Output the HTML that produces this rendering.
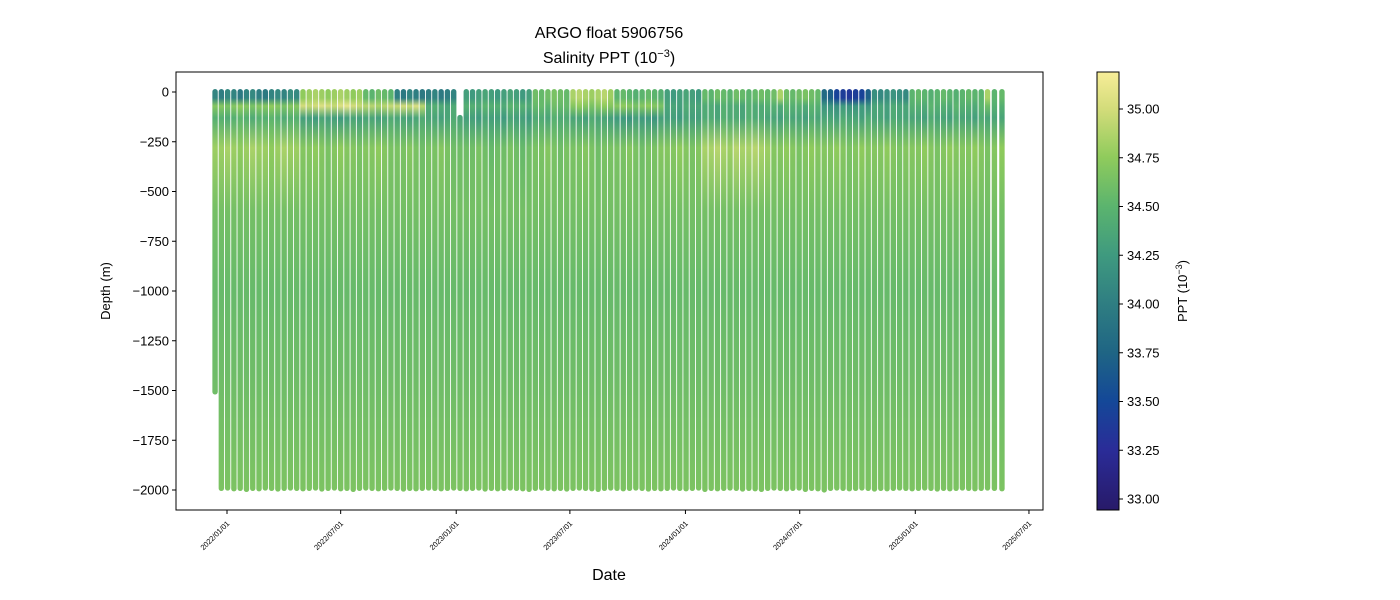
<!DOCTYPE html>
<html><head><meta charset="utf-8"><style>
body{margin:0;background:#fff;}
svg{display:block;font-family:"Liberation Sans","DejaVu Sans",sans-serif;}
</style></head><body>
<svg id="chart" width="1400" height="600" viewBox="0 0 1400 600" xmlns="http://www.w3.org/2000/svg">
<defs id="defs"></defs>
<rect width="1400" height="600" fill="#fff"/>
<text x="609" y="38" font-size="16" text-anchor="middle">ARGO float 5906756</text>
<text x="609" y="63" font-size="16" text-anchor="middle">Salinity PPT (10<tspan dy="-6" font-size="11">−3</tspan><tspan dy="6">)</tspan></text>
<g id="plot"></g>
<rect x="176" y="72" width="867" height="438" fill="none" stroke="#000" stroke-width="1"/>
<g id="yaxis"></g>
<g id="xaxis"></g>
<text x="110" y="291" font-size="13" text-anchor="middle" transform="rotate(-90 110 291)">Depth (m)</text>
<text x="609" y="580" font-size="16" text-anchor="middle">Date</text>
<g id="cbar"></g>
<text x="1187" y="291" font-size="13" text-anchor="middle" transform="rotate(-90 1187 291)">PPT (10<tspan dy="-5" font-size="9">−3</tspan><tspan dy="5">)</tspan></text>
</svg>
<script>
// profile dates: day offset relative to 2022-01-01
const profDay=[-19,-9,1,11,21,31,41,51,61,71,81,91,101,111,121,131,141,151,161,171,181,191,201,211,221,231,241,251,261,271,281,291,301,311,321,331,341,351,361,371,381,391,401,411,421,431,441,451,461,471,481,491,501,511,521,531,541,551,561,571,581,591,601,611,621,631,641,651,661,671,681,691,701,711,721,731,741,751,761,771,781,791,801,811,821,831,841,851,861,871,881,891,901,911,921,931,941,951,961,971,981,991,1001,1011,1021,1031,1041,1051,1061,1071,1081,1091,1101,1111,1121,1131,1141,1151,1161,1171,1181,1191,1201,1211,1222,1234];
const topDepth=[0,0,0,0,0,0,0,0,0,0,0,0,0,0,0,0,0,0,0,0,0,0,0,0,0,0,0,0,0,0,0,0,0,0,0,0,0,0,0,130,0,0,0,0,0,0,0,0,0,0,0,0,0,0,0,0,0,0,0,0,0,0,0,0,0,0,0,0,0,0,0,0,0,0,0,0,0,0,0,0,0,0,0,0,0,0,0,0,0,0,0,0,0,0,0,0,0,0,0,0,0,0,0,0,0,0,0,0,0,0,0,0,0,0,0,0,0,0,0,0,0,0,0,0,0,0];
const maxDepth=[1505,1990,1988,1992,1990,1995,1990,1992,1988,1990,1993,1990,1988,1990,1992,1990,1988,1993,1990,1988,1992,1990,1995,1990,1988,1990,1992,1990,1988,1990,1993,1990,1992,1990,1988,1990,1992,1990,1988,1990,1992,1990,1988,1993,1990,1992,1990,1988,1990,1992,1995,1990,1988,1990,1992,1990,1993,1990,1988,1990,1992,1995,1990,1988,1990,1992,1990,1988,1990,1993,1990,1992,1990,1988,1990,1992,1990,1988,1995,1990,1992,1990,1988,1990,1993,1990,1992,1995,1990,1988,1990,1992,1990,1988,1995,1990,1992,1998,1990,1988,1990,1992,1990,1988,1990,1993,1990,1992,1990,1988,1990,1992,1990,1988,1990,1993,1990,1992,1990,1988,1990,1992,1990,1988,1990,1992];
const salSurf=[34.05,34.0,34.1,34.05,33.95,34.05,34.1,34.0,33.95,34.05,34.1,34.05,34.15,34.1,34.75,34.8,34.85,34.8,34.75,34.8,34.85,34.8,34.75,34.8,34.55,34.5,34.6,34.55,34.5,34.0,33.95,34.05,34.0,33.95,34.0,34.05,33.95,34.0,34.05,34.3,34.3,34.25,34.3,34.35,34.3,34.25,34.3,34.35,34.3,34.25,34.3,34.6,34.55,34.6,34.65,34.6,34.55,34.85,34.9,34.85,34.8,34.85,34.9,34.8,34.5,34.55,34.5,34.45,34.5,34.55,34.5,34.45,34.3,34.25,34.3,34.35,34.3,34.25,34.55,34.5,34.6,34.55,34.5,34.6,34.55,34.5,34.55,34.6,34.55,34.6,34.85,34.6,34.55,34.6,34.65,34.6,34.55,33.8,33.7,33.45,33.4,33.35,33.4,33.45,33.7,34.15,34.1,34.15,34.2,34.15,34.1,34.5,34.55,34.5,34.45,34.5,34.55,34.5,34.45,34.5,34.55,34.5,34.5,34.85,34.5,34.55];
const salBand=[34.7,34.7,34.65,34.7,34.75,34.7,34.65,34.7,34.7,34.75,34.7,34.65,34.7,34.7,35.0,34.95,35.0,35.05,35.0,34.95,35.05,35.1,35.0,34.95,34.9,34.9,34.85,34.9,34.95,34.95,35.0,34.95,35.05,34.9,34.4,34.45,34.4,34.35,34.4,34.3,34.45,34.45,34.4,34.5,34.45,34.45,34.4,34.5,34.45,34.45,34.4,34.55,34.55,34.5,34.6,34.55,34.55,34.7,34.75,34.7,34.65,34.7,34.75,34.7,34.7,34.75,34.7,34.65,34.7,34.75,34.7,34.65,34.35,34.35,34.3,34.4,34.35,34.35,34.4,34.4,34.35,34.45,34.4,34.4,34.35,34.45,34.4,34.4,34.45,34.45,34.4,34.5,34.45,34.45,34.4,34.5,34.45,34.2,34.2,34.15,34.25,34.2,34.2,34.25,34.2,34.35,34.35,34.3,34.4,34.35,34.35,34.45,34.45,34.4,34.5,34.45,34.45,34.4,34.5,34.45,34.45,34.4,34.5,34.6,34.45,34.45];
const salMin=[34.45,34.45,34.4,34.45,34.5,34.45,34.4,34.45,34.45,34.5,34.45,34.4,34.45,34.45,34.3,34.3,34.25,34.35,34.3,34.3,34.25,34.3,34.35,34.3,34.35,34.35,34.3,34.35,34.4,34.35,34.35,34.3,34.35,34.4,34.35,34.35,34.3,34.35,34.4,34.35,34.3,34.3,34.25,34.35,34.3,34.3,34.25,34.35,34.3,34.3,34.25,34.4,34.4,34.35,34.45,34.4,34.4,34.35,34.35,34.3,34.4,34.35,34.35,34.3,34.25,34.25,34.2,34.3,34.25,34.25,34.2,34.3,34.3,34.3,34.25,34.35,34.3,34.3,34.4,34.4,34.35,34.45,34.4,34.4,34.35,34.45,34.4,34.4,34.35,34.35,34.3,34.4,34.35,34.35,34.3,34.4,34.35,34.35,34.35,34.3,34.4,34.35,34.35,34.3,34.4,34.35,34.35,34.3,34.4,34.35,34.35,34.35,34.35,34.3,34.4,34.35,34.35,34.3,34.4,34.35,34.35,34.3,34.4,34.35,34.35,34.35];
const salInter=[34.8,34.8,34.85,34.8,34.75,34.8,34.85,34.8,34.8,34.75,34.8,34.85,34.8,34.8,34.7,34.7,34.75,34.7,34.65,34.7,34.75,34.7,34.7,34.65,34.7,34.7,34.75,34.7,34.65,34.65,34.65,34.7,34.65,34.6,34.65,34.65,34.7,34.65,34.6,34.6,34.6,34.6,34.65,34.6,34.55,34.6,34.6,34.65,34.6,34.55,34.6,34.65,34.65,34.7,34.65,34.6,34.65,34.65,34.65,34.7,34.65,34.6,34.65,34.65,34.65,34.65,34.7,34.65,34.6,34.65,34.65,34.7,34.7,34.7,34.75,34.7,34.65,34.7,34.85,34.85,34.9,34.85,34.8,34.9,34.85,34.85,34.9,34.85,34.8,34.7,34.7,34.75,34.7,34.65,34.7,34.75,34.7,34.7,34.7,34.75,34.7,34.65,34.7,34.75,34.7,34.7,34.7,34.75,34.7,34.65,34.7,34.7,34.7,34.75,34.7,34.65,34.7,34.75,34.7,34.7,34.7,34.75,34.7,34.65,34.7,34.75];
const deepDepth=[600,1000,1500,2000];
const deepSal=[34.62,34.56,34.6,34.66];
const yTicks=[0,-250,-500,-750,-1000,-1250,-1500,-1750,-2000];
const xTickDays=[0,181,365,546,730,912,1096,1277];
const xTickLabels=["2022/01/01","2022/07/01","2023/01/01","2023/07/01","2024/01/01","2024/07/01","2025/01/01","2025/07/01"];
const cbTicks=[33.00,33.25,33.50,33.75,34.00,34.25,34.50,34.75,35.00];

const NS="http://www.w3.org/2000/svg";
const X0=176,X1=1043,Y0=72,Y1=510;
function xScale(d){return 227+(d)*0.628;}
function yScale(dep){return 92+(-dep)*(398/2000);}
const cMin=32.94,cMax=35.19;
const cmStops=[[32.94,[40,26,105]],[33.25,[42,44,152]],[33.5,[20,72,152]],[33.75,[31,101,132]],[34.0,[47,126,130]],[34.25,[63,154,127]],[34.5,[91,180,110]],[34.75,[143,203,92]],[35.0,[211,220,122]],[35.19,[247,237,152]]];
function cmap(v){
  if(v<=cmStops[0][0])return rgb(cmStops[0][1]);
  for(let i=1;i<cmStops.length;i++){
    if(v<=cmStops[i][0]){const a=cmStops[i-1],b=cmStops[i];const t=(v-a[0])/(b[0]-a[0]);
      return rgb(a[1].map((c,k)=>c+(b[1][k]-c)*t));}
  }
  return rgb(cmStops[cmStops.length-1][1]);
}
function rgb(c){return "rgb("+c.map(Math.round).join(",")+")";}
function mk(tag,attrs,parent){const e=document.createElementNS(NS,tag);for(const k in attrs)e.setAttribute(k,attrs[k]);parent.appendChild(e);return e;}

const defs=document.getElementById('defs');
const plot=document.getElementById('plot');
for(let i=0;i<profDay.length;i++){
  const g=mk('linearGradient',{id:'pg'+i,gradientUnits:'userSpaceOnUse',x1:0,x2:0,y1:yScale(0),y2:yScale(-2000)},defs);
  const pts=[[0,salSurf[i]],[30,salSurf[i]],[70,salBand[i]],[130,salMin[i]],[280,salInter[i]]];
  for(let k=0;k<deepDepth.length;k++)pts.push([deepDepth[k],deepSal[k]]);
  pts.forEach(p=>{mk('stop',{offset:(p[0]/2000).toFixed(4),'stop-color':cmap(p[1])},g);});
  const x=xScale(profDay[i]);
  const yt=yScale(-topDepth[i])-3, yb=yScale(-maxDepth[i])+3;
  const r=mk('rect',{x:x-2.7,y:yt,width:5.4,height:yb-yt,rx:2.7,ry:2.7,fill:'url(#pg'+i+')'},plot);
  
  
}
const ya=document.getElementById('yaxis');
yTicks.forEach(t=>{const y=yScale(t);
  mk('line',{x1:X0-4,x2:X0,y1:y,y2:y,stroke:'#000'},ya);
  const tx=mk('text',{x:X0-7,y:y+4.5,'font-size':13,'text-anchor':'end'},ya);tx.textContent=(t<0?'−'+(-t):t);
  
  
});
const xa=document.getElementById('xaxis');
xTickDays.forEach((d,i)=>{const x=xScale(d);
  mk('line',{x1:x,x2:x,y1:Y1,y2:Y1+4,stroke:'#000'},xa);
  const tx=mk('text',{x:x+3,y:Y1+14,'font-size':7.5,'text-anchor':'end',transform:'rotate(-45 '+(x+3)+' '+(Y1+14)+')'},xa);
  tx.textContent=xTickLabels[i];
  
  
});
const cb=document.getElementById('cbar');
const CX=1097,CW=22;
function cy(v){return 109+(35-v)*195;}
const cg=mk('linearGradient',{id:'cbg',x1:0,x2:0,y1:1,y2:0},defs);
cmStops.forEach(s=>mk('stop',{offset:((s[0]-cMin)/(cMax-cMin)).toFixed(4),'stop-color':rgb(s[1])},cg));
mk('rect',{x:CX,y:Y0,width:CW,height:Y1-Y0,fill:'url(#cbg)',stroke:'#000','stroke-width':1},cb);
cbTicks.forEach(t=>{const y=cy(t);
  mk('line',{x1:CX+CW,x2:CX+CW+4,y1:y,y2:y,stroke:'#000'},cb);
  const tx=mk('text',{x:CX+CW+8,y:y+4.5,'font-size':13},cb);tx.textContent=t.toFixed(2);
  
  
});
</script>
</body></html>
